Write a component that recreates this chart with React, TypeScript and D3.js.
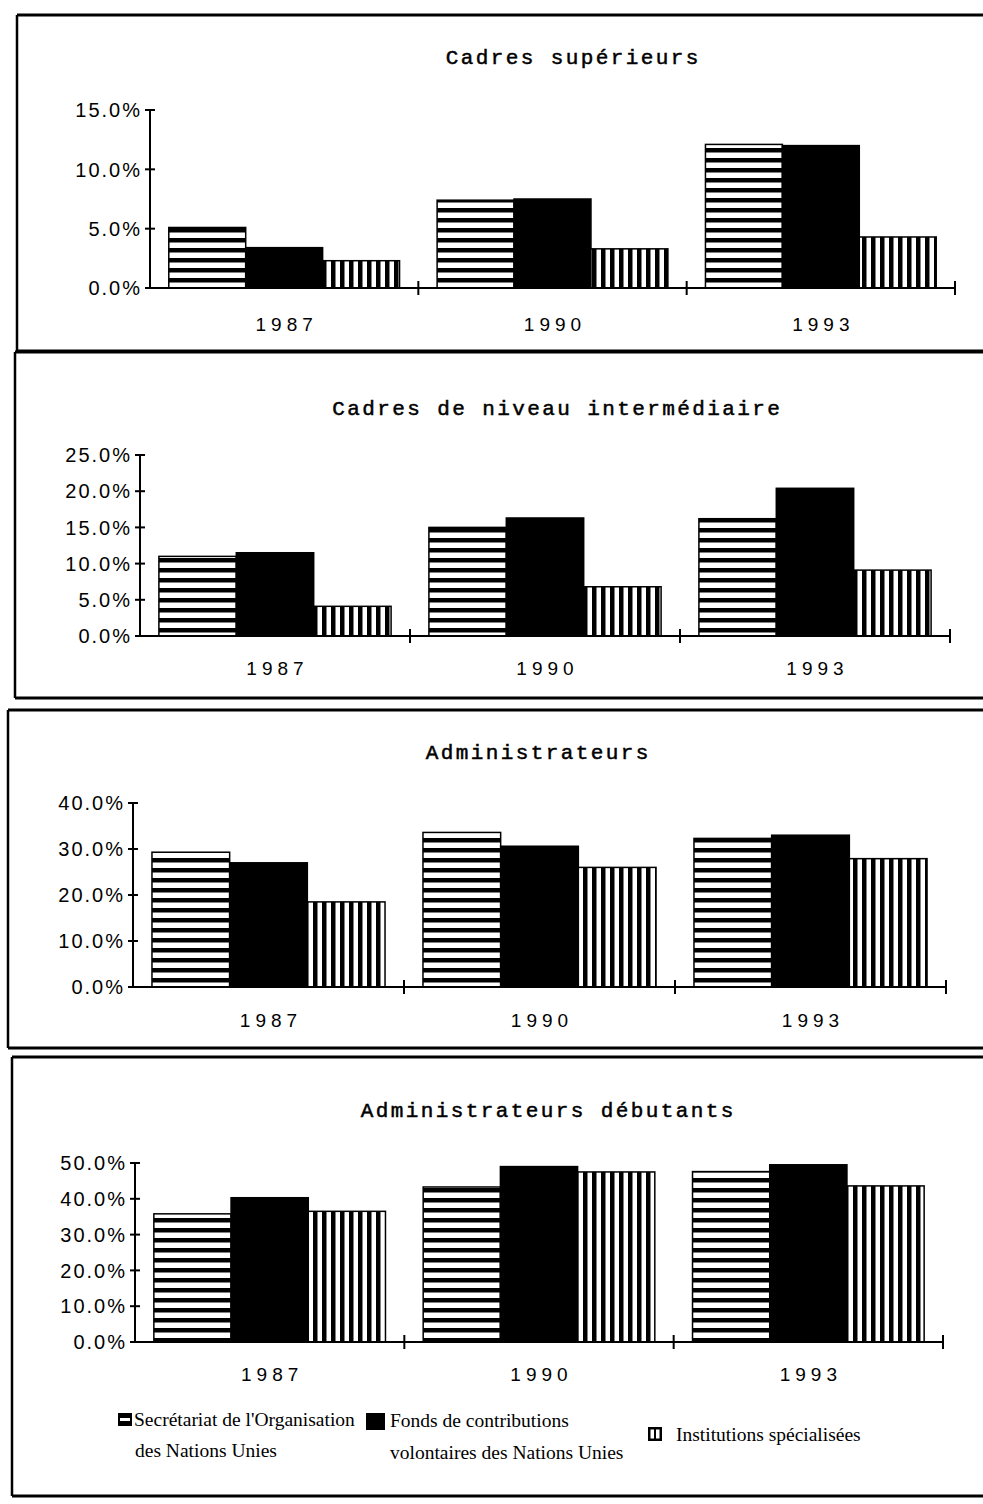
import React from "react";
import * as d3 from "d3";

const years = ["1987", "1990", "1993"];
const seriesKeys = ["secr", "fonds", "inst"];

const panelTitles = [
  "Cadres supérieurs",
  "Cadres de niveau intermédiaire",
  "Administrateurs",
  "Administrateurs débutants",
];

// Cadres supérieurs
const supSecretariat = [5.1, 7.4, 12.1];
const supFonds = [3.4, 7.5, 12.0];
const supInstitutions = [2.3, 3.3, 4.3];
const supTicks = [0, 5, 10, 15];

// Cadres de niveau intermédiaire
const intSecretariat = [11.0, 15.0, 16.2];
const intFonds = [11.5, 16.3, 20.4];
const intInstitutions = [4.1, 6.8, 9.1];
const intTicks = [0, 5, 10, 15, 20, 25];

// Administrateurs
const admSecretariat = [29.3, 33.6, 32.3];
const admFonds = [27.0, 30.6, 33.0];
const admInstitutions = [18.5, 26.0, 27.9];
const admTicks = [0, 10, 20, 30, 40];

// Administrateurs débutants
const debSecretariat = [35.8, 43.3, 47.6];
const debFonds = [40.3, 49.0, 49.5];
const debInstitutions = [36.5, 47.5, 43.6];
const debTicks = [0, 10, 20, 30, 40, 50];

const legendLabels = [
  ["Secrétariat de l'Organisation", "des Nations Unies"],
  ["Fonds de contributions", "volontaires des Nations Unies"],
  ["Institutions spécialisées"],
];

const panelData = [
  { secr: supSecretariat, fonds: supFonds, inst: supInstitutions, ticks: supTicks },
  { secr: intSecretariat, fonds: intFonds, inst: intInstitutions, ticks: intTicks },
  { secr: admSecretariat, fonds: admFonds, inst: admInstitutions, ticks: admTicks },
  { secr: debSecretariat, fonds: debFonds, inst: debInstitutions, ticks: debTicks },
];

const layouts = [
  { axisX: 150, endX: 955, y0: 288, yTop: 110, titleX: 572, titleY: 64, yearY: 331, frameX: 17, frameTop: 15, frameBottom: 351 },
  { axisX: 140, endX: 950, y0: 636, yTop: 455, titleX: 556, titleY: 415, yearY: 675, frameX: 15, frameTop: 352, frameBottom: 698 },
  { axisX: 133, endX: 946, y0: 987, yTop: 803, titleX: 537, titleY: 759, yearY: 1027, frameX: 8, frameTop: 710, frameBottom: 1048 },
  { axisX: 135, endX: 943, y0: 1342, yTop: 1163, titleX: 547, titleY: 1117, yearY: 1381, frameX: 12, frameTop: 1057, frameBottom: 1496 },
];

const fills: Record<string, string> = {
  secr: "url(#hstripe)",
  fonds: "#000",
  inst: "url(#vstripe)",
};

function Panel({ idx }: { idx: number }) {
  const L = layouts[idx];
  const D = panelData[idx];
  const yMax = D.ticks[D.ticks.length - 1];
  const x0 = d3.scaleBand().domain(years).range([L.axisX, L.endX]).padding(0);
  const bw = x0.bandwidth();
  const x1 = d3.scaleBand().domain(seriesKeys).range([bw * 0.07, bw * 0.93]).padding(0);
  const y = d3.scaleLinear().domain([0, yMax]).range([L.y0, L.yTop]);
  const fmt = (v: number) => d3.format(".1f")(v) + "%";
  const titleLs = 2.4;
  const yearLs = 5;
  return (
    <g>
      <line x1={L.frameX} x2={990} y1={L.frameTop} y2={L.frameTop} stroke="#000" strokeWidth={3} />
      <line x1={L.frameX} x2={L.frameX} y1={L.frameTop} y2={L.frameBottom} stroke="#000" strokeWidth={2.5} />
      <line x1={L.frameX} x2={990} y1={L.frameBottom} y2={L.frameBottom} stroke="#000" strokeWidth={3} />
      <text
        x={L.titleX + titleLs / 2}
        y={L.titleY}
        textAnchor="middle"
        fontFamily="'Liberation Mono', 'DejaVu Sans Mono', monospace"
        fontSize={21}
        stroke="#000"
        strokeWidth={0.5}
        letterSpacing={titleLs}
      >
        {panelTitles[idx]}
      </text>
      {years.map((yr, i) =>
        seriesKeys.map((k) => {
          const v = (D as any)[k][i] as number;
          const bx = (x0(yr) as number) + (x1(k) as number);
          return (
            <rect
              key={yr + k}
              x={bx}
              y={y(v)}
              width={x1.bandwidth()}
              height={L.y0 - y(v)}
              fill={fills[k]}
              stroke="#000"
              strokeWidth={1.5}
            />
          );
        })
      )}
      <line x1={L.axisX} x2={L.axisX} y1={L.y0} y2={y(yMax)} stroke="#000" strokeWidth={2} />
      {D.ticks.map((t) => (
        <g key={t}>
          <line x1={L.axisX - 5} x2={L.axisX + 5} y1={y(t)} y2={y(t)} stroke="#000" strokeWidth={2} />
          <text
            x={L.axisX - 8}
            y={y(t)}
            dy="0.36em"
            textAnchor="end"
            fontFamily="'Liberation Sans', Arial, sans-serif"
            fontSize={20}
            letterSpacing={2}
          >
            {fmt(t)}
          </text>
        </g>
      ))}
      <line x1={L.axisX} x2={L.endX} y1={L.y0} y2={L.y0} stroke="#000" strokeWidth={2} />
      {years.map((yr) => (
        <line
          key={"t" + yr}
          x1={(x0(yr) as number) + bw}
          x2={(x0(yr) as number) + bw}
          y1={L.y0 - 7}
          y2={L.y0 + 7}
          stroke="#000"
          strokeWidth={2}
        />
      ))}
      {years.map((yr) => (
        <text
          key={"l" + yr}
          x={(x0(yr) as number) + bw / 2 + yearLs / 2}
          y={L.yearY}
          textAnchor="middle"
          fontFamily="'Liberation Sans', Arial, sans-serif"
          fontSize={19}
          letterSpacing={yearLs}
        >
          {yr}
        </text>
      ))}
    </g>
  );
}

function Legend() {
  const serif = "'Liberation Serif', 'Times New Roman', serif";
  return (
    <g fontFamily={serif} fontSize={19.5}>
      <rect x={118} y={1413} width={14} height={13} fill="#000" />
      <rect x={120} y={1418} width={10} height={3} fill="#fff" />
      <text x={134} y={1426}>{legendLabels[0][0]}</text>
      <text x={135} y={1457}>{legendLabels[0][1]}</text>
      <rect x={366} y={1413} width={19} height={17} fill="#000" />
      <text x={390} y={1427}>{legendLabels[1][0]}</text>
      <text x={390} y={1459}>{legendLabels[1][1]}</text>
      <rect x={648} y={1427} width={14} height={14} fill="#000" />
      <rect x={650.5} y={1429.5} width={3.5} height={9} fill="#fff" />
      <rect x={656} y={1429.5} width={3.5} height={9} fill="#fff" />
      <text x={676} y={1441}>{legendLabels[2][0]}</text>
    </g>
  );
}

export default function App() {
  return (
    <svg
      width={983}
      height={1504}
      style={{ position: "absolute", left: 0, top: 0, background: "#fff" }}
    >
      <defs>
        <pattern id="hstripe" patternUnits="userSpaceOnUse" width={10} height={10}>
          <rect width={10} height={10} fill="#000" />
          <rect y={2.5} width={10} height={5.5} fill="#fff" />
        </pattern>
        <pattern id="vstripe" patternUnits="userSpaceOnUse" width={9} height={10}>
          <rect width={9} height={10} fill="#000" />
          <rect x={2.5} width={4.5} height={10} fill="#fff" />
        </pattern>
      </defs>
      <rect width={983} height={1504} fill="#fff" />
      {layouts.map((_, i) => (
        <Panel key={i} idx={i} />
      ))}
      <Legend />
    </svg>
  );
}
